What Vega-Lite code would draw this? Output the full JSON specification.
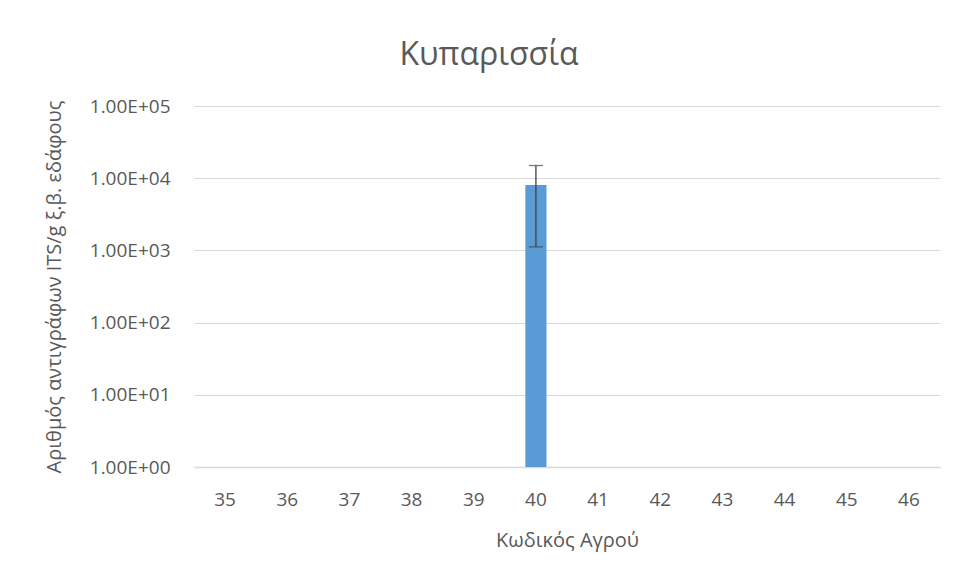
{
  "$schema": "https://vega.github.io/schema/vega-lite/v6.json",
  "autosize": "none",
  "width": 746,
  "height": 361,
  "padding": {"left": 194, "top": 106, "right": 18, "bottom": 111},
  "background": "white",
  "title": {
    "text": "Κυπαρισσία",
    "font": "Open Sans",
    "fontSize": 32,
    "fontWeight": "normal",
    "color": "#595959",
    "anchor": "middle",
    "offset": 25,
    "dx": -78
  },
  "config": {
    "view": {"stroke": null},
    "font": "Open Sans"
  },
  "data": {
    "values": [
      {"field": "35", "value": null, "lo": null, "hi": null},
      {"field": "36", "value": null, "lo": null, "hi": null},
      {"field": "37", "value": null, "lo": null, "hi": null},
      {"field": "38", "value": null, "lo": null, "hi": null},
      {"field": "39", "value": null, "lo": null, "hi": null},
      {"field": "40", "value": 8050, "lo": 1120, "hi": 15000},
      {"field": "41", "value": null, "lo": null, "hi": null},
      {"field": "42", "value": null, "lo": null, "hi": null},
      {"field": "43", "value": null, "lo": null, "hi": null},
      {"field": "44", "value": null, "lo": null, "hi": null},
      {"field": "45", "value": null, "lo": null, "hi": null},
      {"field": "46", "value": null, "lo": null, "hi": null}
    ]
  },
  "encoding": {
    "x": {
      "field": "field",
      "type": "ordinal",
      "sort": null,
      "scale": {
        "domain": ["35","36","37","38","39","40","41","42","43","44","45","46"],
        "paddingInner": 0.66,
        "paddingOuter": 0.33
      },
      "axis": {
        "title": "Κωδικός Αγρού",
        "titleFont": "Open Sans",
        "titleFontSize": 20,
        "titleFontWeight": "normal",
        "titleColor": "#595959",
        "titlePadding": 21,
        "labelAngle": 0,
        "labelFont": "Open Sans",
        "labelFontSize": 19,
        "labelColor": "#595959",
        "labelPadding": 23,
        "ticks": false,
        "domain": true,
        "domainColor": "#d9d9d9",
        "domainWidth": 1.5,
        "grid": false
      }
    }
  },
  "layer": [
    {
      "mark": {"type": "bar", "color": "#5b9bd5"},
      "encoding": {
        "y": {
          "field": "value",
          "type": "quantitative",
          "scale": {"type": "log", "domain": [1, 100000], "nice": false},
          "axis": {
            "title": "Αριθμός αντιγράφων ITS/g ξ.β. εδάφους",
            "titleFont": "Open Sans",
            "titleFontSize": 20,
            "titleFontWeight": "normal",
            "titleColor": "#595959",
            "titlePadding": 25,
            "values": [1, 10, 100, 1000, 10000, 100000],
            "labelExpr": "replace(format(datum.value, '.2e'), 'e+', 'E+0')",
            "labelFont": "Open Sans",
            "labelFontSize": 19,
            "labelColor": "#595959",
            "labelPadding": 24,
            "ticks": false,
            "domain": false,
            "grid": true,
            "gridColor": "#d9d9d9",
            "gridWidth": 1
          }
        },
        "y2": {"datum": 1}
      }
    },
    {
      "mark": {"type": "rule", "color": "#404040", "strokeWidth": 1.3},
      "encoding": {
        "y": {"field": "lo", "type": "quantitative"},
        "y2": {"field": "hi"}
      }
    },
    {
      "mark": {"type": "tick", "color": "#404040", "thickness": 1.3, "size": 14},
      "encoding": {
        "y": {"field": "hi", "type": "quantitative"}
      }
    },
    {
      "mark": {"type": "tick", "color": "#404040", "thickness": 1.3, "size": 14},
      "encoding": {
        "y": {"field": "lo", "type": "quantitative"}
      }
    }
  ]
}
